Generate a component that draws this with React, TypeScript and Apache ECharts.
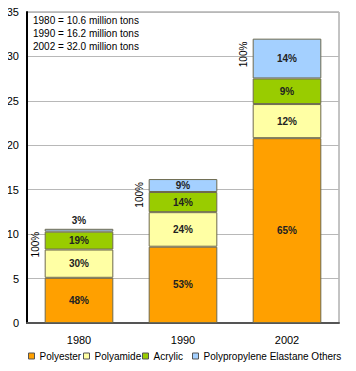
import React, { useEffect, useRef } from "react";
import * as echarts from "echarts";

const years = ["1980", "1990", "2002"];
const totals = [10.6, 16.2, 32.0];
const polyesterPct = [48, 53, 65];
const polyamidePct = [30, 24, 12];
const acrylicPct = [19, 14, 9];
const othersPct = [3, 9, 14];
const seriesNames = ["Polyester", "Polyamide", "Acrylic", "Polypropylene Elastane Others"];
const seriesColors = ["#FFA000", "#FFFFA4", "#99CC00", "#A4D0FF"];
const yTicks = { min: 0, max: 35, interval: 5 };
const noteLines = ["1980 = 10.6 million tons", "1990 = 16.2 million tons", "2002 = 32.0 million tons"];

const FONT = "'Liberation Sans', Arial, sans-serif";

export default function App() {
  const ref = useRef<HTMLDivElement>(null);
  useEffect(() => {
    if (!ref.current) return;
    const chart = echarts.init(ref.current, undefined, { renderer: "svg" });
    const pcts = [polyesterPct, polyamidePct, acrylicPct, othersPct];
    const barSeries = pcts.map((arr, si) => ({
      name: seriesNames[si],
      type: "bar",
      stack: "total",
      barCategoryGap: "34%",
      itemStyle: { color: seriesColors[si], borderColor: "#6e6a4e", borderWidth: 1 },
      label: {
        show: true,
        position: "inside",
        fontSize: 10,
        fontWeight: "bold",
        fontFamily: FONT,
        color: "#222",
      },
      data: arr.map((p, i) => {
        const item: any = { value: (totals[i] * p) / 100, label: { formatter: p + "%" } };
        if (si === 3 && i === 0) {
          item.label = { formatter: p + "%", position: "top", distance: 3 };
        }
        return item;
      }),
    }));
    const legendLefts = [28, 83, 142, 192];
    chart.setOption({
      animation: false,
      title: {
        text: noteLines.join("\n"),
        left: 33,
        top: 14,
        padding: 0,
        textStyle: { fontSize: 10, lineHeight: 13, fontWeight: "normal", color: "#000", fontFamily: FONT },
      },
      legend: seriesNames.map((n, i) => ({
        data: [n],
        left: legendLefts[i],
        top: 351,
        padding: 0,
        icon: "rect",
        itemWidth: 6,
        itemHeight: 6,
        itemStyle: { borderColor: "#555", borderWidth: 1 },
        textStyle: { fontSize: 10, color: "#000", fontFamily: FONT },
        selectedMode: false,
      })),
      grid: {
        left: 27,
        right: 17,
        top: 12,
        bottom: 48,
        show: true,
        borderColor: "#888",
        borderWidth: 1,
      },
      xAxis: {
        type: "category",
        data: years,
        axisLine: { lineStyle: { color: "#555", width: 2 } },
        axisTick: { show: false },
        axisLabel: { fontSize: 11, color: "#000", margin: 11, fontFamily: FONT },
      },
      yAxis: {
        type: "value",
        min: yTicks.min,
        max: yTicks.max,
        interval: yTicks.interval,
        axisLine: { show: true, lineStyle: { color: "#000", width: 2 } },
        axisTick: { show: false },
        splitLine: { lineStyle: { color: "#b8b8b8", width: 1 } },
        axisLabel: { fontSize: 11, color: "#000", margin: 8, fontFamily: FONT },
      },
      series: [
        ...barSeries,
        {
          type: "custom",
          name: "total",
          data: totals.map((t, i) => [i, t]),
          renderItem: (params: any, api: any) => {
            const c = api.coord([api.value(0), api.value(1)]);
            const w = api.size([1, 0])[0] * 0.66;
            return {
              type: "text",
              x: c[0] - w / 2 - 9,
              y: c[1] + 3,
              rotation: Math.PI / 2,
              style: {
                text: "100%",
                align: "right",
                verticalAlign: "middle",
                fontSize: 10,
                fontFamily: FONT,
                fill: "#000",
              },
            };
          },
          z: 10,
        },
      ],
    });
    return () => chart.dispose();
  }, []);
  return <div ref={ref} style={{ width: 356, height: 371, margin: -8 }} />;
}
